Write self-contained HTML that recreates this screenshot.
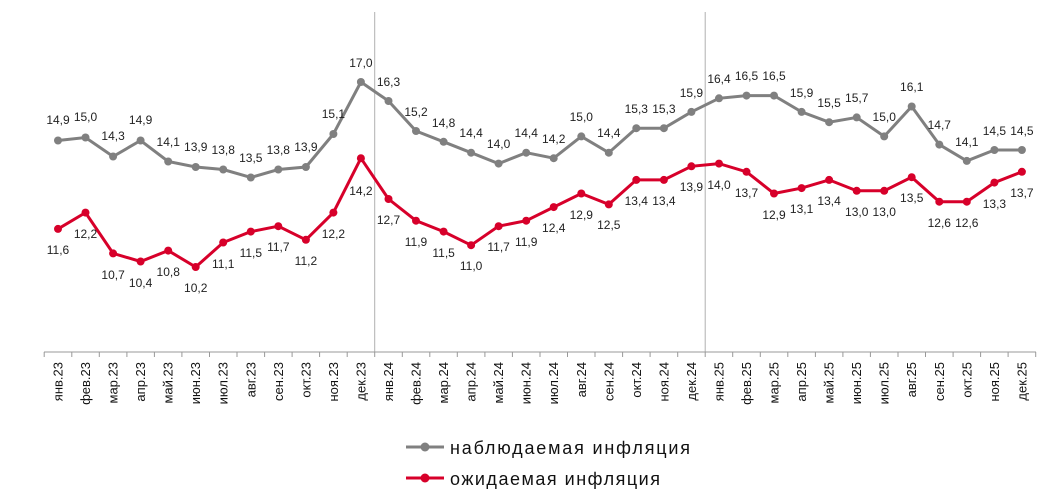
<!DOCTYPE html>
<html><head><meta charset="utf-8"><style>
body{margin:0;background:#fff}
svg{display:block;font-family:"Liberation Sans",sans-serif}
.l{font-size:12px;fill:#222;text-anchor:middle}
.t{font-size:13px;fill:#111;text-anchor:end}
</style></head><body>
<svg width="1063" height="499" viewBox="0 0 1063 499">
<line x1="374.7" y1="12" x2="374.7" y2="352" stroke="#b0b0b0" stroke-width="1"/>
<line x1="705.2" y1="12" x2="705.2" y2="352" stroke="#b0b0b0" stroke-width="1"/>
<line x1="44" y1="352" x2="1036" y2="352" stroke="#999" stroke-width="1"/>
<g stroke="#999">
<line x1="44.2" y1="352" x2="44.2" y2="357"/><line x1="71.8" y1="352" x2="71.8" y2="357"/><line x1="99.3" y1="352" x2="99.3" y2="357"/><line x1="126.9" y1="352" x2="126.9" y2="357"/><line x1="154.4" y1="352" x2="154.4" y2="357"/><line x1="181.9" y1="352" x2="181.9" y2="357"/><line x1="209.5" y1="352" x2="209.5" y2="357"/><line x1="237" y1="352" x2="237" y2="357"/><line x1="264.6" y1="352" x2="264.6" y2="357"/><line x1="292.1" y1="352" x2="292.1" y2="357"/><line x1="319.6" y1="352" x2="319.6" y2="357"/><line x1="347.2" y1="352" x2="347.2" y2="357"/><line x1="374.7" y1="352" x2="374.7" y2="357"/><line x1="402.3" y1="352" x2="402.3" y2="357"/><line x1="429.8" y1="352" x2="429.8" y2="357"/><line x1="457.3" y1="352" x2="457.3" y2="357"/><line x1="484.9" y1="352" x2="484.9" y2="357"/><line x1="512.4" y1="352" x2="512.4" y2="357"/><line x1="540" y1="352" x2="540" y2="357"/><line x1="567.5" y1="352" x2="567.5" y2="357"/><line x1="595" y1="352" x2="595" y2="357"/><line x1="622.6" y1="352" x2="622.6" y2="357"/><line x1="650.1" y1="352" x2="650.1" y2="357"/><line x1="677.7" y1="352" x2="677.7" y2="357"/><line x1="705.2" y1="352" x2="705.2" y2="357"/><line x1="732.7" y1="352" x2="732.7" y2="357"/><line x1="760.3" y1="352" x2="760.3" y2="357"/><line x1="787.8" y1="352" x2="787.8" y2="357"/><line x1="815.4" y1="352" x2="815.4" y2="357"/><line x1="842.9" y1="352" x2="842.9" y2="357"/><line x1="870.4" y1="352" x2="870.4" y2="357"/><line x1="898" y1="352" x2="898" y2="357"/><line x1="925.5" y1="352" x2="925.5" y2="357"/><line x1="953.1" y1="352" x2="953.1" y2="357"/><line x1="980.6" y1="352" x2="980.6" y2="357"/><line x1="1008.1" y1="352" x2="1008.1" y2="357"/><line x1="1035.7" y1="352" x2="1035.7" y2="357"/>
</g>
<g class="t">
<text transform="translate(62.5,362) rotate(-90)">янв.23</text><text transform="translate(90,362) rotate(-90)">фев.23</text><text transform="translate(117.6,362) rotate(-90)">мар.23</text><text transform="translate(145.1,362) rotate(-90)">апр.23</text><text transform="translate(172.7,362) rotate(-90)">май.23</text><text transform="translate(200.2,362) rotate(-90)">июн.23</text><text transform="translate(227.7,362) rotate(-90)">июл.23</text><text transform="translate(255.3,362) rotate(-90)">авг.23</text><text transform="translate(282.8,362) rotate(-90)">сен.23</text><text transform="translate(310.4,362) rotate(-90)">окт.23</text><text transform="translate(337.9,362) rotate(-90)">ноя.23</text><text transform="translate(365.4,362) rotate(-90)">дек.23</text><text transform="translate(393,362) rotate(-90)">янв.24</text><text transform="translate(420.5,362) rotate(-90)">фев.24</text><text transform="translate(448.1,362) rotate(-90)">мар.24</text><text transform="translate(475.6,362) rotate(-90)">апр.24</text><text transform="translate(503.1,362) rotate(-90)">май.24</text><text transform="translate(530.7,362) rotate(-90)">июн.24</text><text transform="translate(558.2,362) rotate(-90)">июл.24</text><text transform="translate(585.8,362) rotate(-90)">авг.24</text><text transform="translate(613.3,362) rotate(-90)">сен.24</text><text transform="translate(640.8,362) rotate(-90)">окт.24</text><text transform="translate(668.4,362) rotate(-90)">ноя.24</text><text transform="translate(695.9,362) rotate(-90)">дек.24</text><text transform="translate(723.5,362) rotate(-90)">янв.25</text><text transform="translate(751,362) rotate(-90)">фев.25</text><text transform="translate(778.5,362) rotate(-90)">мар.25</text><text transform="translate(806.1,362) rotate(-90)">апр.25</text><text transform="translate(833.6,362) rotate(-90)">май.25</text><text transform="translate(861.2,362) rotate(-90)">июн.25</text><text transform="translate(888.7,362) rotate(-90)">июл.25</text><text transform="translate(916.2,362) rotate(-90)">авг.25</text><text transform="translate(943.8,362) rotate(-90)">сен.25</text><text transform="translate(971.3,362) rotate(-90)">окт.25</text><text transform="translate(998.9,362) rotate(-90)">ноя.25</text><text transform="translate(1026.4,362) rotate(-90)">дек.25</text>
</g>
<polyline fill="none" stroke="#808080" stroke-width="3" points="58,140.5 85.5,137.5 113.1,156.5 140.6,140.5 168.2,161.5 195.7,167 223.2,169.5 250.8,177.5 278.3,169.5 305.9,167 333.4,134 360.9,82 388.5,101 416,131 443.6,141.8 471.1,152.7 498.6,163.6 526.2,152.7 553.7,158.2 581.3,136.4 608.8,152.7 636.3,128.2 663.9,128.2 691.4,111.9 719,98.3 746.5,95.6 774,95.6 801.6,111.9 829.1,122.2 856.7,117.4 884.2,136.4 911.7,106.5 939.3,144.6 966.8,160.9 994.4,150 1021.9,150"/>
<g fill="#808080">
<circle cx="58" cy="140.5" r="4"/><circle cx="85.5" cy="137.5" r="4"/><circle cx="113.1" cy="156.5" r="4"/><circle cx="140.6" cy="140.5" r="4"/><circle cx="168.2" cy="161.5" r="4"/><circle cx="195.7" cy="167" r="4"/><circle cx="223.2" cy="169.5" r="4"/><circle cx="250.8" cy="177.5" r="4"/><circle cx="278.3" cy="169.5" r="4"/><circle cx="305.9" cy="167" r="4"/><circle cx="333.4" cy="134" r="4"/><circle cx="360.9" cy="82" r="4"/><circle cx="388.5" cy="101" r="4"/><circle cx="416" cy="131" r="4"/><circle cx="443.6" cy="141.8" r="4"/><circle cx="471.1" cy="152.7" r="4"/><circle cx="498.6" cy="163.6" r="4"/><circle cx="526.2" cy="152.7" r="4"/><circle cx="553.7" cy="158.2" r="4"/><circle cx="581.3" cy="136.4" r="4"/><circle cx="608.8" cy="152.7" r="4"/><circle cx="636.3" cy="128.2" r="4"/><circle cx="663.9" cy="128.2" r="4"/><circle cx="691.4" cy="111.9" r="4"/><circle cx="719" cy="98.3" r="4"/><circle cx="746.5" cy="95.6" r="4"/><circle cx="774" cy="95.6" r="4"/><circle cx="801.6" cy="111.9" r="4"/><circle cx="829.1" cy="122.2" r="4"/><circle cx="856.7" cy="117.4" r="4"/><circle cx="884.2" cy="136.4" r="4"/><circle cx="911.7" cy="106.5" r="4"/><circle cx="939.3" cy="144.6" r="4"/><circle cx="966.8" cy="160.9" r="4"/><circle cx="994.4" cy="150" r="4"/><circle cx="1021.9" cy="150" r="4"/>
</g>
<polyline fill="none" stroke="#d7002a" stroke-width="3" points="58,228.9 85.5,212.6 113.1,253.4 140.6,261.5 168.2,250.6 195.7,267 223.2,242.5 250.8,231.6 278.3,226.2 305.9,239.8 333.4,212.6 360.9,158.2 388.5,199 416,220.7 443.6,231.6 471.1,245.2 498.6,226.2 526.2,220.7 553.7,207.1 581.3,193.5 608.8,204.4 636.3,179.9 663.9,179.9 691.4,166.3 719,163.6 746.5,171.8 774,193.5 801.6,188.1 829.1,179.9 856.7,190.8 884.2,190.8 911.7,177.2 939.3,201.7 966.8,201.7 994.4,182.6 1021.9,171.8"/>
<g fill="#d7002a">
<circle cx="58" cy="228.9" r="4"/><circle cx="85.5" cy="212.6" r="4"/><circle cx="113.1" cy="253.4" r="4"/><circle cx="140.6" cy="261.5" r="4"/><circle cx="168.2" cy="250.6" r="4"/><circle cx="195.7" cy="267" r="4"/><circle cx="223.2" cy="242.5" r="4"/><circle cx="250.8" cy="231.6" r="4"/><circle cx="278.3" cy="226.2" r="4"/><circle cx="305.9" cy="239.8" r="4"/><circle cx="333.4" cy="212.6" r="4"/><circle cx="360.9" cy="158.2" r="4"/><circle cx="388.5" cy="199" r="4"/><circle cx="416" cy="220.7" r="4"/><circle cx="443.6" cy="231.6" r="4"/><circle cx="471.1" cy="245.2" r="4"/><circle cx="498.6" cy="226.2" r="4"/><circle cx="526.2" cy="220.7" r="4"/><circle cx="553.7" cy="207.1" r="4"/><circle cx="581.3" cy="193.5" r="4"/><circle cx="608.8" cy="204.4" r="4"/><circle cx="636.3" cy="179.9" r="4"/><circle cx="663.9" cy="179.9" r="4"/><circle cx="691.4" cy="166.3" r="4"/><circle cx="719" cy="163.6" r="4"/><circle cx="746.5" cy="171.8" r="4"/><circle cx="774" cy="193.5" r="4"/><circle cx="801.6" cy="188.1" r="4"/><circle cx="829.1" cy="179.9" r="4"/><circle cx="856.7" cy="190.8" r="4"/><circle cx="884.2" cy="190.8" r="4"/><circle cx="911.7" cy="177.2" r="4"/><circle cx="939.3" cy="201.7" r="4"/><circle cx="966.8" cy="201.7" r="4"/><circle cx="994.4" cy="182.6" r="4"/><circle cx="1021.9" cy="171.8" r="4"/>
</g>
<g class="l">
<text x="58" y="124">14,9</text><text x="85.5" y="121">15,0</text><text x="113.1" y="140">14,3</text><text x="140.6" y="124">14,9</text><text x="168.2" y="146">14,1</text><text x="195.7" y="151">13,9</text><text x="223.2" y="154">13,8</text><text x="250.8" y="162">13,5</text><text x="278.3" y="154">13,8</text><text x="305.9" y="151">13,9</text><text x="333.4" y="118">15,1</text><text x="360.9" y="67">17,0</text><text x="388.5" y="86">16,3</text><text x="416" y="116">15,2</text><text x="443.6" y="127">14,8</text><text x="471.1" y="137">14,4</text><text x="498.6" y="148">14,0</text><text x="526.2" y="137">14,4</text><text x="553.7" y="143">14,2</text><text x="581.3" y="121">15,0</text><text x="608.8" y="137">14,4</text><text x="636.3" y="113">15,3</text><text x="663.9" y="113">15,3</text><text x="691.4" y="97">15,9</text><text x="719" y="83">16,4</text><text x="746.5" y="80">16,5</text><text x="774" y="80">16,5</text><text x="801.6" y="97">15,9</text><text x="829.1" y="107">15,5</text><text x="856.7" y="102">15,7</text><text x="884.2" y="121">15,0</text><text x="911.7" y="91">16,1</text><text x="939.3" y="129">14,7</text><text x="966.8" y="146">14,1</text><text x="994.4" y="135">14,5</text><text x="1021.9" y="135">14,5</text>
<text x="58" y="254">11,6</text><text x="85.5" y="238">12,2</text><text x="113.1" y="279">10,7</text><text x="140.6" y="287">10,4</text><text x="168.2" y="276">10,8</text><text x="195.7" y="292">10,2</text><text x="223.2" y="268">11,1</text><text x="250.8" y="257">11,5</text><text x="278.3" y="251">11,7</text><text x="305.9" y="265">11,2</text><text x="333.4" y="238">12,2</text><text x="360.9" y="195">14,2</text><text x="388.5" y="224">12,7</text><text x="416" y="246">11,9</text><text x="443.6" y="257">11,5</text><text x="471.1" y="270">11,0</text><text x="498.6" y="251">11,7</text><text x="526.2" y="246">11,9</text><text x="553.7" y="232">12,4</text><text x="581.3" y="219">12,9</text><text x="608.8" y="229">12,5</text><text x="636.3" y="205">13,4</text><text x="663.9" y="205">13,4</text><text x="691.4" y="191">13,9</text><text x="719" y="189">14,0</text><text x="746.5" y="197">13,7</text><text x="774" y="219">12,9</text><text x="801.6" y="213">13,1</text><text x="829.1" y="205">13,4</text><text x="856.7" y="216">13,0</text><text x="884.2" y="216">13,0</text><text x="911.7" y="202">13,5</text><text x="939.3" y="227">12,6</text><text x="966.8" y="227">12,6</text><text x="994.4" y="208">13,3</text><text x="1021.9" y="197">13,7</text>
</g>
<line x1="406" y1="447" x2="444" y2="447" stroke="#808080" stroke-width="3"/><circle cx="425" cy="447" r="4.5" fill="#808080"/>
<text x="450" y="454" font-size="18" fill="#111" textLength="240" lengthAdjust="spacing">наблюдаемая инфляция</text>
<line x1="406" y1="478" x2="444" y2="478" stroke="#d7002a" stroke-width="3"/><circle cx="425" cy="478" r="4.5" fill="#d7002a"/>
<text x="450" y="485" font-size="18" fill="#111" textLength="210" lengthAdjust="spacing">ожидаемая инфляция</text>
</svg>
</body></html>
